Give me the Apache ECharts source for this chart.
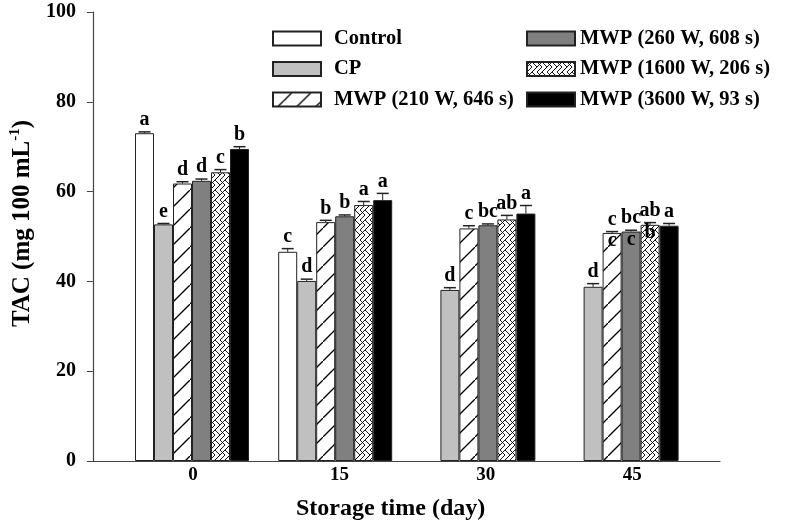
<!DOCTYPE html>
<html>
<head>
<meta charset="utf-8">
<script src="https://cdn.jsdelivr.net/npm/echarts@6/dist/echarts.min.js"></script>
<style>html,body{margin:0;padding:0;background:#fff}#c{width:786px;height:526px}</style>
</head>
<body>
<div id="c"></div>
<script>
// ---- data ----
var categories = ['0', '15', '30', '45'];
var seriesNames = ['Control', 'CP', 'MWP (210 W, 646 s)', 'MWP (260 W, 608 s)', 'MWP (1600 W, 206 s)', 'MWP (3600 W, 93 s)'];
var controlVals = [73.0, 46.6, null, null];
var cpVals      = [52.7, 40.1, 38.1, 38.8];
var mwp210Vals  = [61.8, 53.2, 51.8, 50.8];
var mwp260Vals  = [62.4, 54.5, 52.5, 51.1];
var mwp1600Vals = [64.3, 57.0, 53.8, 52.6];
var mwp3600Vals = [69.5, 58.1, 55.1, 52.4];
var controlErr = [0.3, 0.7, null, null];
var cpErr      = [0.2, 0.4, 0.5, 0.7];
var mwp210Err  = [0.4, 0.4, 0.6, 0.3];
var mwp260Err  = [0.4, 0.3, 0.3, 0.3];
var mwp1600Err = [0.6, 0.8, 0.9, 0.5];
var mwp3600Err = [0.5, 1.5, 1.8, 0.5];
var controlLet = ['a', 'c', '', ''];
var cpLet      = ['e', 'd', 'd', 'd'];
var mwp210Let  = ['d', 'b', 'c', 'c'];
var mwp260Let  = ['d', 'b', 'bc', 'bc'];
var mwp1600Let = ['c', 'a', 'ab', 'ab'];
var mwp3600Let = ['b', 'a', 'a', 'a'];
// letters printed just inside the bar tops (as in the original figure)
var controlLet2 = ['', '', '', ''];
var cpLet2      = ['', '', '', ''];
var mwp210Let2  = ['', '', '', 'c'];
var mwp260Let2  = ['', '', '', 'c'];
var mwp1600Let2 = ['', '', '', 'b'];
var mwp3600Let2 = ['', '', '', ''];
var yTicks = [0, 20, 40, 60, 80, 100];

var allVals = [controlVals, cpVals, mwp210Vals, mwp260Vals, mwp1600Vals, mwp3600Vals];
var allErr = [controlErr, cpErr, mwp210Err, mwp260Err, mwp1600Err, mwp3600Err];
var allLet = [controlLet, cpLet, mwp210Let, mwp260Let, mwp1600Let, mwp3600Let];
var allLet2 = [controlLet2, cpLet2, mwp210Let2, mwp260Let2, mwp1600Let2, mwp3600Let2];

// ---- patterns ----
function diagPattern() {
  var s = 19, c = document.createElement('canvas');
  c.width = s; c.height = s;
  var g = c.getContext('2d');
  g.fillStyle = '#fff'; g.fillRect(0, 0, s, s);
  g.strokeStyle = '#000'; g.lineWidth = 1.3;
  g.beginPath();
  g.moveTo(-2, s + 2); g.lineTo(s + 2, -2);
  g.stroke();
  return c;
}
function netPattern() {
  var s = 10, c = document.createElement('canvas');
  c.width = s; c.height = s;
  var g = c.getContext('2d');
  g.fillStyle = '#fff'; g.fillRect(0, 0, s, s);
  g.strokeStyle = '#000'; g.lineWidth = 0.9;
  g.beginPath();
  g.moveTo(0, 0); g.lineTo(s / 2, s / 2); g.lineTo(0, s);
  g.moveTo(s / 2, 0); g.lineTo(s, s / 2); g.lineTo(s / 2, s);
  g.moveTo(0, s / 2); g.lineTo(s / 2, 0);
  g.moveTo(s / 2, s); g.lineTo(s, s / 2);
  g.stroke();
  return c;
}
var fills = [
  '#ffffff',
  '#c0c0c0',
  { image: diagPattern(), repeat: 'repeat' },
  '#808080',
  { image: netPattern(), repeat: 'repeat' },
  '#000000'
];

var FONT = '"Liberation Serif", "Times New Roman", serif';
var BAR_W = 19;

var chart = echarts.init(document.getElementById('c'), null, { renderer: 'canvas' });

var series = [];
seriesNames.forEach(function (n, i) {
  series.push({
    name: n, type: 'bar', xAxisIndex: 1, yAxisIndex: 1,
    data: allVals[i], barWidth: BAR_W, barGap: '0%',
    itemStyle: { color: fills[i], borderColor: '#222', borderWidth: 1 },
    emphasis: { disabled: true }, animation: false
  });
});

var errData = [];
allVals.forEach(function (arr, s) {
  arr.forEach(function (v, k) {
    if (v != null) errData.push([k, s, v, allErr[s][k]]);
  });
});
var errLetters = [];
var errLetters2 = [];
allVals.forEach(function (arr, s) {
  arr.forEach(function (v, k) {
    if (v != null) { errLetters.push(allLet[s][k]); errLetters2.push(allLet2[s][k]); }
  });
});
series.push({
  type: 'custom', xAxisIndex: 1, yAxisIndex: 1, animation: false, silent: true,
  data: errData, z: 10,
  renderItem: function (params, api) {
    var k = api.value(0), s = api.value(1), v = api.value(2), e = api.value(3);
    var base = api.coord([k, v]);
    var top = api.coord([k, v + e]);
    var x = base[0] + (s - 2.5) * BAR_W;
    var cap = 6;
    var ch = [
      { type: 'line', shape: { x1: x, y1: base[1], x2: x, y2: top[1] }, style: { stroke: '#222', lineWidth: 1 } },
      { type: 'line', shape: { x1: x - cap, y1: top[1], x2: x + cap, y2: top[1] }, style: { stroke: '#222', lineWidth: 1.5 } },
      { type: 'text', x: x, y: top[1] - 2, style: { text: errLetters[params.dataIndex], fill: '#000', font: 'bold 20px ' + FONT, align: 'center', verticalAlign: 'bottom' } },
      { type: 'text', x: x, y: base[1] - 2, style: { text: errLetters2[params.dataIndex] || '', fill: '#000', font: 'bold 20px ' + FONT, align: 'center', verticalAlign: 'top' } }
    ];
    return { type: 'group', children: ch };
  }
});

var legendText = { fontFamily: FONT, fontWeight: 'bold', fontSize: 20.5, color: '#000' };
var option = {
  backgroundColor: '#fff',
  animation: false,
  legend: [
    {
      data: seriesNames.slice(0, 3), orient: 'vertical', left: 272, top: 28, padding: 0,
      itemWidth: 48, itemHeight: 14, itemGap: 9.5, icon: 'rect',
      textStyle: Object.assign({ padding: [0, 0, 0, 8] }, legendText),
      selectedMode: false
    },
    {
      data: seriesNames.slice(3), orient: 'vertical', left: 526, top: 28, padding: 0,
      itemWidth: 48, itemHeight: 14, itemGap: 9.5, icon: 'rect',
      textStyle: legendText,
      selectedMode: false
    }
  ],
  grid: [
    { left: 92, right: 66, top: 12, bottom: 65 },
    { left: 120.4, width: 572.8, top: 12, bottom: 65 },
    { left: 119.8, width: 585.6, top: 12, bottom: 65 }
  ],
  xAxis: [
    {
      gridIndex: 0, type: 'value', min: 0, max: 1,
      axisLine: { show: true, lineStyle: { color: '#444', width: 1.2 } },
      axisTick: { show: false }, axisLabel: { show: false }, splitLine: { show: false }
    },
    {
      gridIndex: 1, type: 'category', data: categories,
      axisLine: { show: false }, axisTick: { show: false }, axisLabel: { show: false }
    },
    {
      gridIndex: 2, type: 'category', data: categories,
      axisLine: { show: false }, axisTick: { show: false },
      axisLabel: { fontFamily: FONT, fontWeight: 'bold', fontSize: 19, color: '#000', margin: 12 },
      name: 'Storage time (day)', nameLocation: 'middle', nameGap: 43,
      nameTextStyle: { fontFamily: FONT, fontWeight: 'bold', fontSize: 24, color: '#000', padding: [0, 44, 0, 0] }
    }
  ],
  yAxis: [
    {
      gridIndex: 0, type: 'value', min: 0, max: 100, interval: 20,
      axisLine: { show: true, lineStyle: { color: '#444', width: 1.2 } },
      axisTick: { show: true, inside: false, length: 6, lineStyle: { color: '#444' } },
      axisLabel: { fontFamily: FONT, fontWeight: 'bold', fontSize: 20, color: '#000', margin: 17,
        customValues: yTicks },
      splitLine: { show: false },
      name: '{m|TAC (mg 100 mL}{s|-1}{m|)}', nameLocation: 'middle', nameGap: 51, nameRotate: 90,
      nameTextStyle: {
        padding: [0, 0, 0, 26],
        rich: {
          m: { fontFamily: FONT, fontWeight: 'bold', fontSize: 25, color: '#000', lineHeight: 29 },
          s: { fontFamily: FONT, fontWeight: 'bold', fontSize: 15, color: '#000', verticalAlign: 'top', lineHeight: 29, padding: [0, 0, 12, 0] }
        }
      }
    },
    { gridIndex: 1, type: 'value', min: 0, max: 100, interval: 20, show: false },
    { gridIndex: 2, type: 'value', min: 0, max: 100, interval: 20, show: false }
  ],
  series: series
};
chart.setOption(option);
</script>
</body>
</html>
